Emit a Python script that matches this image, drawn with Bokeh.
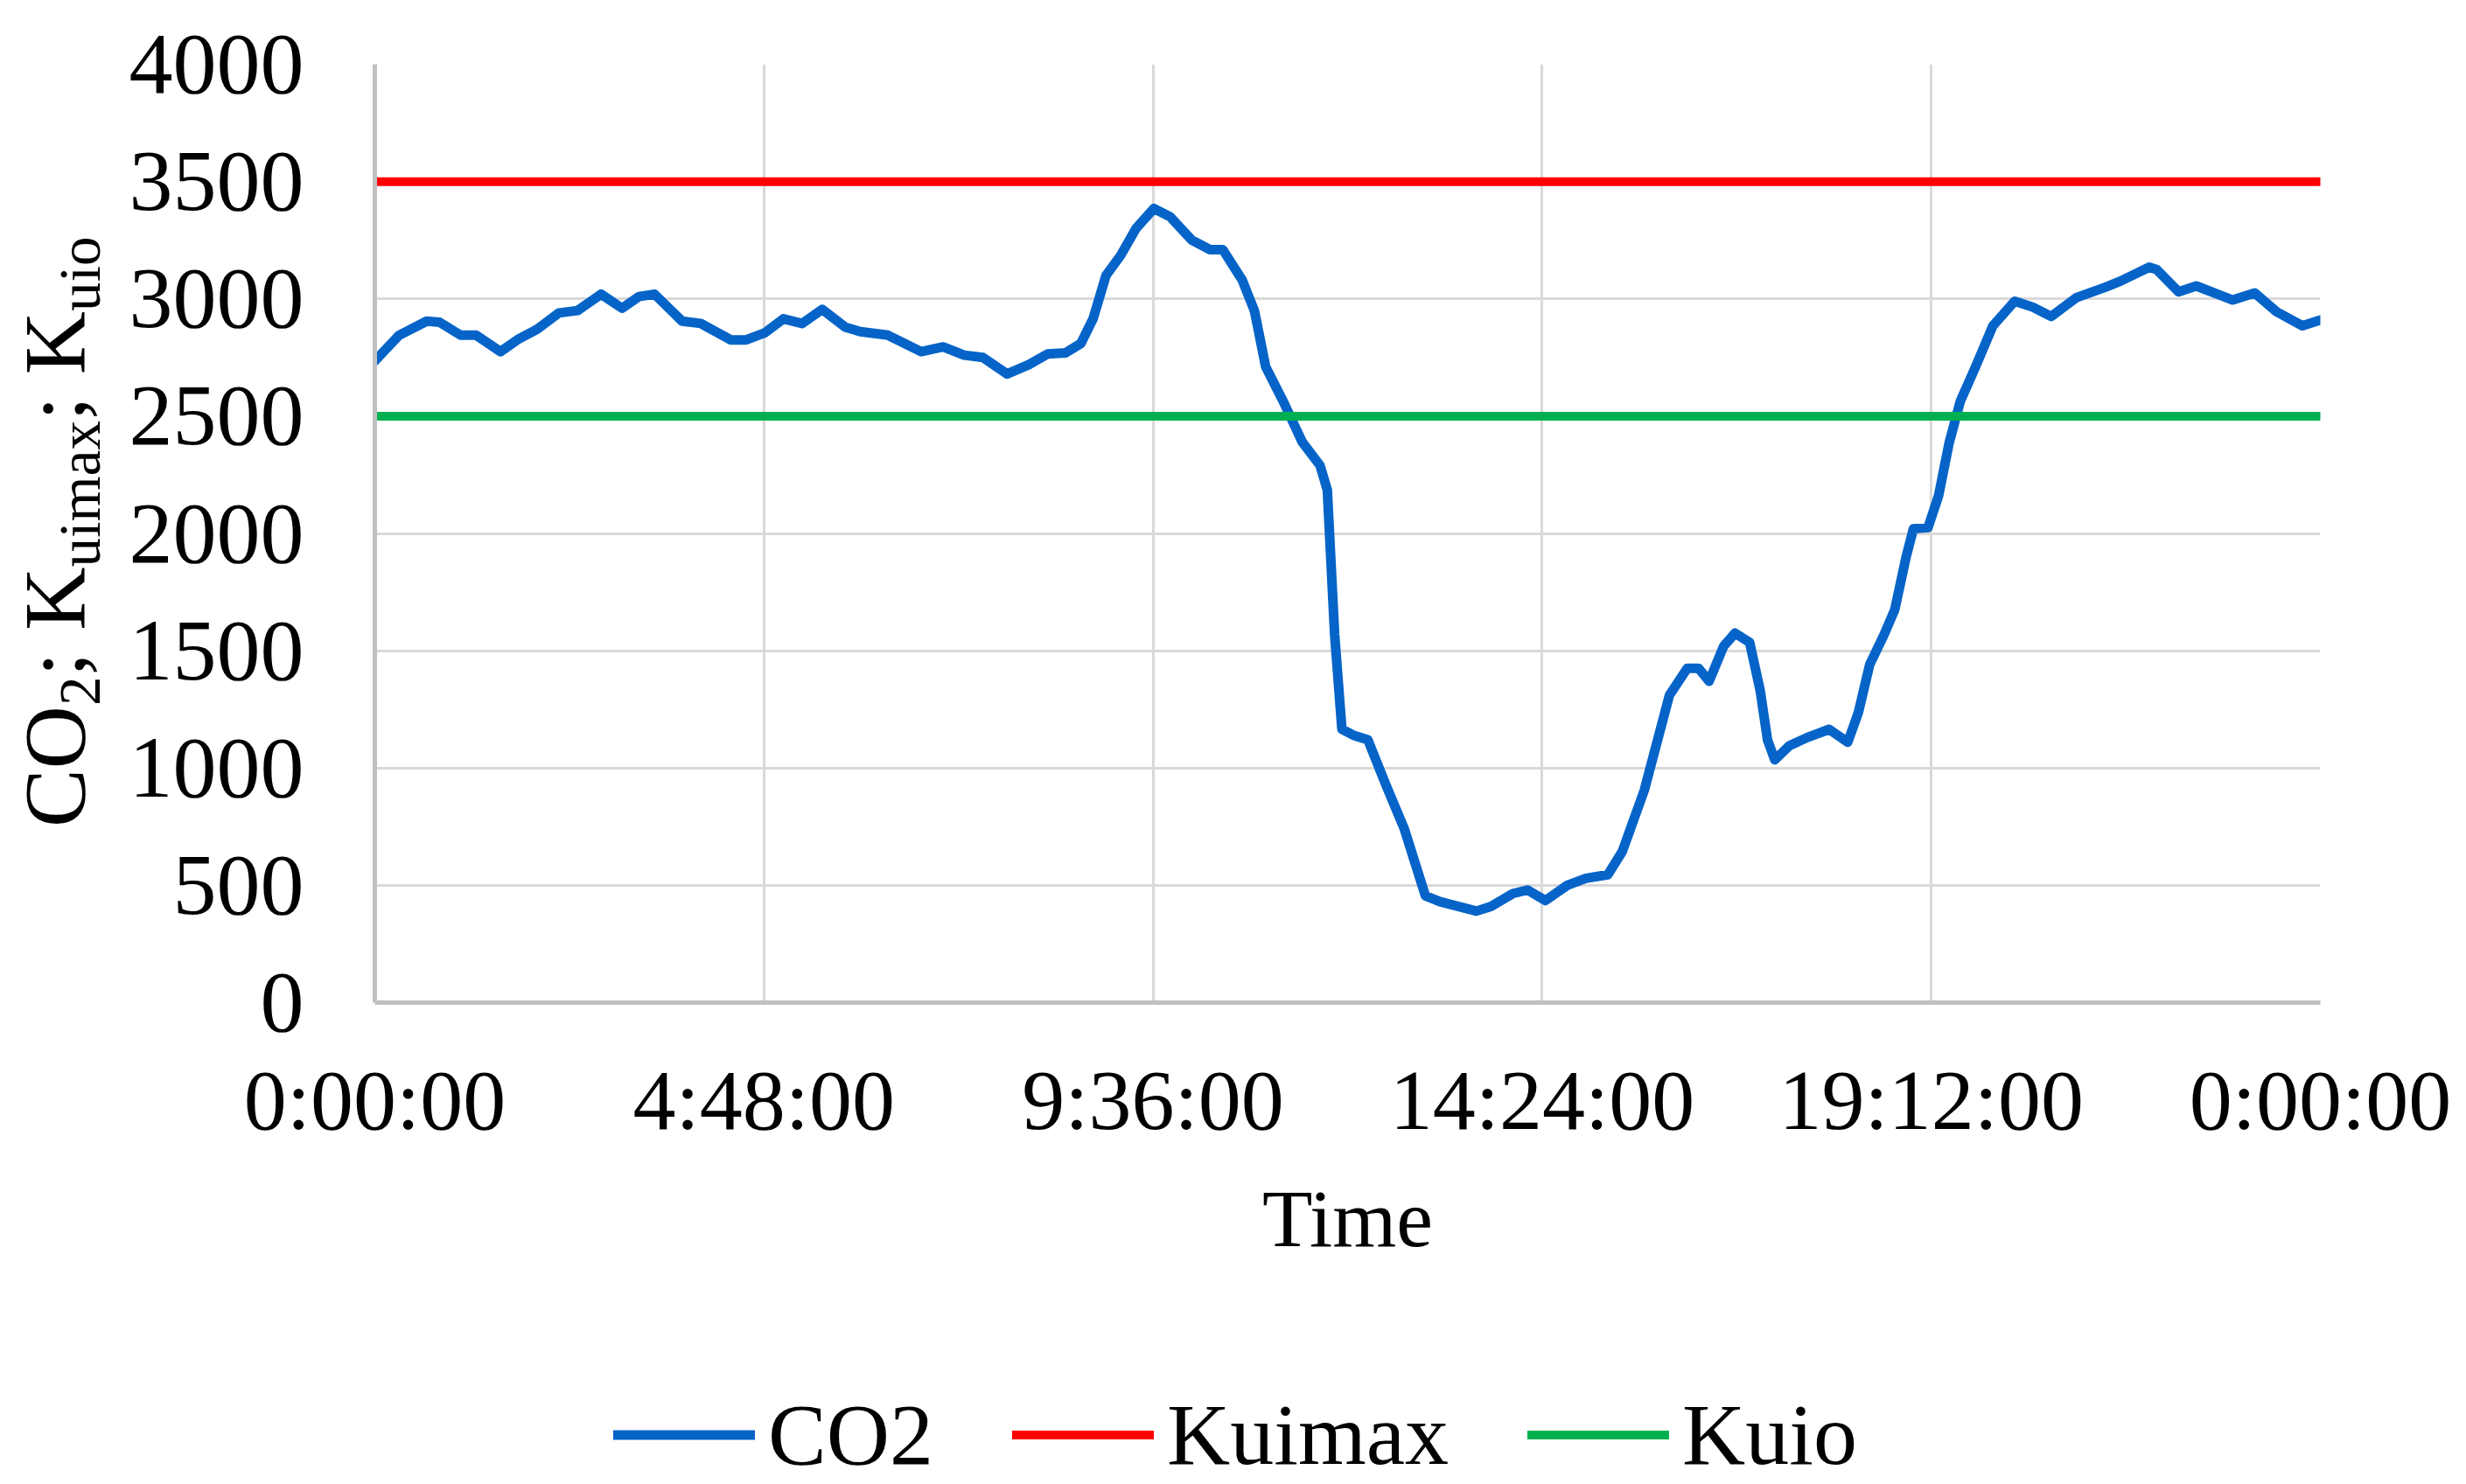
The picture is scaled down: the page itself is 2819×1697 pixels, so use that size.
from bokeh.plotting import figure
from bokeh.models import Range1d, FixedTicker, Legend, LegendItem, Div
from bokeh.layouts import row, column
from bokeh.embed import file_html
from bokeh.resources import INLINE

# ---------------- data ----------------
hours = [0, 0.30, 0.64, 0.80, 1.06, 1.25, 1.55, 1.78, 2.0, 2.27, 2.5, 2.79, 3.05, 3.26, 3.45,
         3.79, 4.02, 4.39, 4.58, 4.81, 5.04, 5.27, 5.52, 5.8, 5.99, 6.33, 6.74, 7.01, 7.27, 7.5,
         7.8, 8.07, 8.3, 8.52, 8.71, 8.86, 9.02, 9.2, 9.39, 9.61, 9.81, 10.08, 10.3, 10.46, 10.7,
         10.85, 10.99, 11.21, 11.44, 11.66, 11.75, 11.84, 11.93, 12.07, 12.25, 12.47, 12.7, 12.96,
         13.14, 13.59, 13.77, 14.04, 14.22, 14.44, 14.71, 14.94, 15.21, 15.39, 15.66, 15.84, 15.97,
         16.19, 16.33, 16.46, 16.64, 16.78, 16.96, 17.09, 17.18, 17.27, 17.45, 17.67, 17.94, 18.17,
         18.3, 18.44, 18.62, 18.75, 18.89, 18.98, 19.16, 19.29, 19.42, 19.56, 19.74, 19.96, 20.23,
         20.45, 20.68, 20.99, 21.35, 21.53, 21.89, 21.98, 22.25, 22.47, 22.92, 23.19, 23.46, 23.78,
         24.0]
co2 = [2735, 2845, 2905, 2900, 2845, 2845, 2775, 2830, 2870, 2940, 2950, 3020, 2960, 3010, 3020,
       2905, 2895, 2825, 2825, 2855, 2915, 2895, 2955, 2880, 2860, 2845, 2775, 2795, 2760, 2750,
       2680, 2720, 2765, 2770, 2810, 2915, 3100, 3185, 3300, 3385, 3350, 3250, 3210, 3210, 3080,
       2950, 2710, 2560, 2390, 2290, 2185, 1570, 1165, 1140, 1120, 930, 740, 455,
       430, 390, 410, 465, 480, 435, 500, 530, 545, 645, 905, 1140, 1310,
       1425, 1425, 1370, 1520, 1575, 1535, 1330, 1120, 1035, 1095, 1130, 1165, 1110,
       1235, 1440, 1570, 1675, 1900, 2020, 2025, 2160, 2385, 2565, 2705, 2885, 2990,
       2965, 2925, 3005, 3050, 3075, 3135, 3125, 3030, 3055, 2995, 3025, 2945, 2885,
       2910]
limit_hours = [0, 24]
kuimax = [3500, 3500]
kuio = [2500, 2500]

x_tick_minutes = [0, 288, 576, 864, 1152, 1440]
x_tick_labels = ["0:00:00", "4:48:00", "9:36:00", "14:24:00", "19:12:00", "0:00:00"]
y_ticks = [0, 500, 1000, 1500, 2000, 2500, 3000, 3500, 4000]

series_names = ["CO2", "Kuimax", "Kuio"]
x_title = "Time"
y_title_parts = [("CO", False), ("2", True), ("; K", False), ("uimax", True), ("; K", False), ("uio", True)]

# ---------------- styling / layout ----------------
FONT = "Liberation Serif"
BLUE = "#0664C8"
RED = "#FF0000"
GREEN = "#00B050"
PAGE_W, PAGE_H = 2819, 1697
TITLE_W = 138
LEG_H = 114
MAIN_H = PAGE_H - LEG_H
FRAME_L, FRAME_T, FRAME_W, FRAME_H = 428, 73, 2224, 1073

p = figure(width=PAGE_W - TITLE_W, height=MAIN_H, output_backend="svg", toolbar_location=None,
           x_range=Range1d(0, 1440), y_range=Range1d(0, 4000),
           min_border_left=FRAME_L - TITLE_W, min_border_right=PAGE_W - FRAME_L - FRAME_W,
           min_border_top=FRAME_T, min_border_bottom=MAIN_H - FRAME_T - FRAME_H)
p.outline_line_color = None
p.background_fill_color = "white"
p.border_fill_color = "white"

x_min = [h * 60 for h in hours]
lim_min = [h * 60 for h in limit_hours]

p.line(x_min, co2, line_color=BLUE, line_width=11, line_join="round", line_cap="round")
p.line(lim_min, kuimax, line_color=RED, line_width=10, line_cap="round")
p.line(lim_min, kuio, line_color=GREEN, line_width=10, line_cap="round")

# axes
p.xaxis.ticker = FixedTicker(ticks=x_tick_minutes)
p.xaxis.major_label_overrides = {t: s for t, s in zip(x_tick_minutes, x_tick_labels)}
p.yaxis.ticker = FixedTicker(ticks=y_ticks)
for ax in (p.xaxis, p.yaxis):
    ax.major_label_text_font = FONT
    ax.major_label_text_color = "black"
    ax.major_tick_line_color = None
    ax.minor_tick_line_color = None
    ax.major_tick_out = 0
    ax.major_tick_in = 0
    ax.axis_line_color = "#C0C0C0"
    ax.axis_line_width = 5
p.xaxis.major_label_text_font_size = "98px"
p.yaxis.major_label_text_font_size = "100px"
p.xaxis.major_label_standoff = 57
p.yaxis.major_label_standoff = 81
p.xaxis.axis_label = x_title
p.xaxis.axis_label_text_font = FONT
p.xaxis.axis_label_text_font_size = "94px"
p.xaxis.axis_label_text_font_style = "normal"
p.xaxis.axis_label_text_color = "black"
p.xaxis.axis_label_standoff = 26

p.xgrid.ticker = FixedTicker(ticks=x_tick_minutes)
p.ygrid.ticker = FixedTicker(ticks=y_ticks)
p.grid.grid_line_color = "#D9D9D9"
p.grid.grid_line_width = 3

# legend strip: its own small plot; the series are drawn there out of view,
# only their legend samples show
pl = figure(width=PAGE_W, height=LEG_H, output_backend="svg", toolbar_location=None,
            x_axis_type=None, y_axis_type=None, x_range=Range1d(-2, -1), y_range=Range1d(-2, -1),
            min_border=0, outline_line_color=None)
pl.background_fill_color = "white"
pl.border_fill_color = "white"
l1 = pl.line(x_min, co2, line_color=BLUE, line_width=11, line_cap="round")
l2 = pl.line(lim_min, kuimax, line_color=RED, line_width=10, line_cap="round")
l3 = pl.line(lim_min, kuio, line_color=GREEN, line_width=10, line_cap="round")
legend = Legend(items=[LegendItem(label=series_names[0], renderers=[l1]),
                       LegendItem(label=series_names[1], renderers=[l2]),
                       LegendItem(label=series_names[2], renderers=[l3])],
                orientation="horizontal", location="left")
legend.label_text_font = FONT
legend.label_text_font_size = "100px"
legend.label_text_color = "black"
legend.glyph_width = 162
legend.glyph_height = 20
legend.label_standoff = 15
legend.spacing = 90
legend.padding = 0
legend.margin = 701
legend.border_line_color = None
legend.background_fill_alpha = 0
pl.add_layout(legend)

# y-axis title with subscripts (HTML text, rotated)
parts_html = "".join(
    f'<span style="font-size:67px;vertical-align:-18px">{t}</span>' if sub else t.replace(" ", "&nbsp;")
    for t, sub in y_title_parts)
title_html = (
    f'<div style="position:relative;width:{TITLE_W}px;height:{MAIN_H}px;background:white;">'
    '<div style="position:absolute;left:13px;top:946px;transform:rotate(-90deg);'
    'transform-origin:0 0;white-space:nowrap;font-family:\'Liberation Serif\';'
    f'font-size:100px;line-height:1;color:black;">{parts_html}</div></div>')
ytitle = Div(text=title_html, width=TITLE_W, height=MAIN_H, margin=0)

layout = column(row(ytitle, p), pl)
open("out.html", "w").write(file_html(layout, INLINE))
